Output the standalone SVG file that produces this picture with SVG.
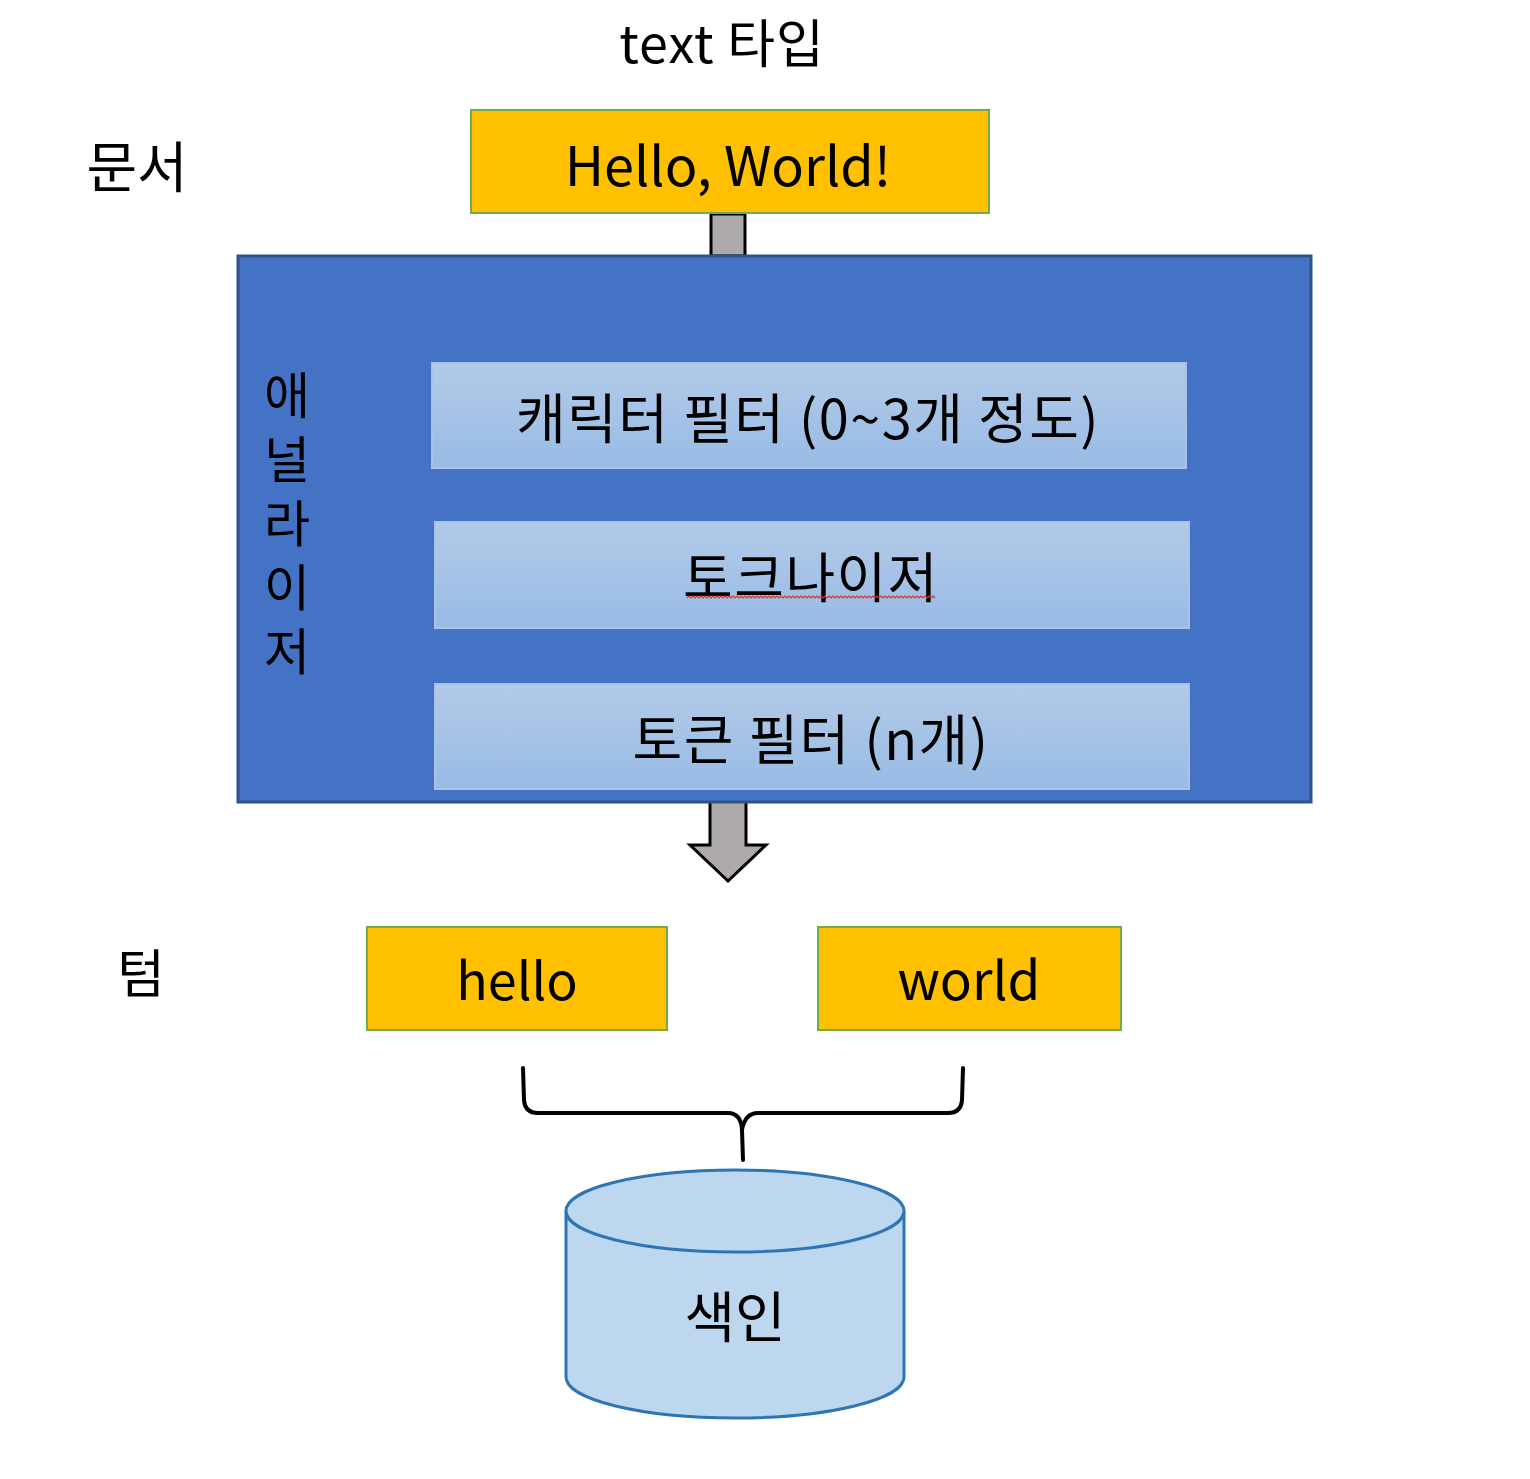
<svg xmlns="http://www.w3.org/2000/svg" width="1530" height="1479" viewBox="0 0 1530 1479">
<defs>
<linearGradient id="g" x1="0" y1="0" x2="0" y2="1">
<stop offset="0" stop-color="#B3CAE8"/>
<stop offset="1" stop-color="#98BBE5"/>
</linearGradient>
<style>
text{font-family:"Noto Sans CJK KR","Noto Sans",sans-serif;fill:#000;text-anchor:middle;dominant-baseline:central}
.y{fill:#FFC000;stroke:#70AD47;stroke-width:2}
.in{fill:url(#g);stroke:#A9C3E6;stroke-width:2}
.k{font-size:54px;letter-spacing:1.5px}
.arr{fill:#AEAAAA;stroke:#000;stroke-width:3;stroke-linejoin:miter}
.v{writing-mode:vertical-rl;text-orientation:upright;letter-spacing:14px;text-anchor:start;font-size:50px}
</style>
</defs>
<rect width="1530" height="1479" fill="#fff"/>
<text x="722" y="40" font-size="52" letter-spacing="1">text 타입</text>
<text x="137" y="163" font-size="55">문서</text>
<text x="141" y="970" font-size="52">텀</text>
<g id="connectors">
<rect class="arr" x="711" y="214" width="34" height="42"/>
<path class="arr" d="M710,802 L710,845 L690,845 L728,881 L766,845 L746,845 L746,802"/>
<path d="M523,1068 L524,1100 Q525,1113 538,1113 L728,1113 Q741,1113 742,1130 L743,1160 M742,1130 Q745,1113 758,1113 L948,1113 Q961,1113 962,1100 L963,1068" fill="none" stroke="#000" stroke-width="4" stroke-linecap="round"/>
</g>
<g id="doc">
<rect class="y" x="471" y="110" width="518" height="103"/>
<text x="728" y="162" font-size="54">Hello, World!</text>
</g>
<g id="analyzer">
<rect x="238" y="256" width="1073" height="546" fill="#4472C4" stroke="#2F528F" stroke-width="3"/>
<text class="v" x="287" y="370">애널라이저</text>
</g>
<g id="charfilter">
<rect class="in" x="432" y="363" width="754" height="105"/>
<text x="808" y="415" class="k">캐릭터 필터 (0~3개 정도)</text>
</g>
<g id="tokenizer">
<rect class="in" x="435" y="522" width="754" height="106"/>
<text x="811" y="574" class="k">토크나이저</text>
<path d="M687,598 l2,-2 l2,2 l2,-2 l2,2 l2,-2 l2,2 l2,-2 l2,2 l2,-2 l2,2 l2,-2 l2,2 l2,-2 l2,2 l2,-2 l2,2 l2,-2 l2,2 l2,-2 l2,2
l2,-2 l2,2 l2,-2 l2,2 l2,-2 l2,2 l2,-2 l2,2 l2,-2 l2,2 l2,-2 l2,2 l2,-2 l2,2 l2,-2 l2,2 l2,-2 l2,2 l2,-2 l2,2
l2,-2 l2,2 l2,-2 l2,2 l2,-2 l2,2 l2,-2 l2,2 l2,-2 l2,2 l2,-2 l2,2 l2,-2 l2,2 l2,-2 l2,2 l2,-2 l2,2 l2,-2 l2,2
l2,-2 l2,2 l2,-2 l2,2 l2,-2 l2,2 l2,-2 l2,2 l2,-2 l2,2 l2,-2 l2,2 l2,-2 l2,2 l2,-2 l2,2 l2,-2 l2,2 l2,-2 l2,2
l2,-2 l2,2 l2,-2 l2,2 l2,-2 l2,2 l2,-2 l2,2 l2,-2 l2,2 l2,-2 l2,2 l2,-2 l2,2 l2,-2 l2,2 l2,-2 l2,2 l2,-2 l2,2
l2,-2 l2,2 l2,-2 l2,2 l2,-2 l2,2 l2,-2 l2,2 l2,-2 l2,2 l2,-2 l2,2 l2,-2 l2,2 l2,-2 l2,2 l2,-2 l2,2 l2,-2 l2,2
l2,-2 l2,2 l2,-2 l2,2" fill="none" stroke="#E03030" stroke-width="1.2"/>
</g>
<g id="tokenfilter">
<rect class="in" x="435" y="684" width="754" height="105"/>
<text x="811" y="736" class="k">토큰 필터 (n개)</text>
</g>
<g id="hello">
<rect class="y" x="367" y="927" width="300" height="103"/>
<text x="517" y="977" font-size="52">hello</text>
</g>
<g id="world">
<rect class="y" x="818" y="927" width="303" height="103"/>
<text x="969" y="977" font-size="53">world</text>
</g>
<g id="index">
<path d="M566,1211 L566,1377 A169,41 0 0 0 904,1377 L904,1211" fill="#BDD7EE" stroke="#2E75B6" stroke-width="3"/>
<ellipse cx="735" cy="1211" rx="169" ry="41" fill="#BDD7EE" stroke="#2E75B6" stroke-width="3"/>
<text x="735" y="1313" font-size="55">색인</text>
</g>
</svg>
